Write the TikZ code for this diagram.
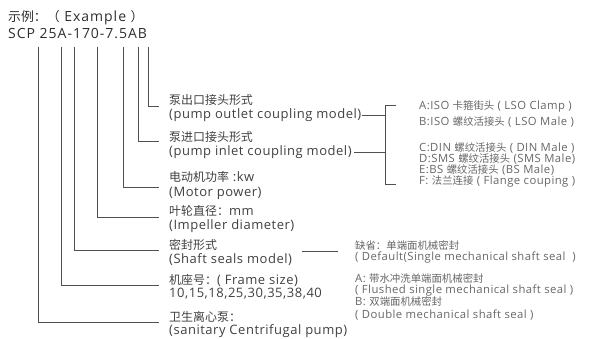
\documentclass[tikz,border=0pt]{standalone}
\usepackage{fontspec}
\setmainfont[LetterSpace=4]{Open Sans}
\newfontfamily\hdfont[LetterSpace=7]{Open Sans}
\newfontfamily\cjk[Scale=0.92]{Noto Sans CJK SC}
\definecolor{txth}{HTML}{2E2E2E}
\definecolor{txt}{HTML}{404040}
\definecolor{txtl}{HTML}{666666}
\definecolor{ln}{HTML}{505050}
\begin{document}
\begin{tikzpicture}[x=1pt,y=-1pt,
  hdr/.style={anchor=west,inner sep=0pt,text=txth,font=\hdfont\fontsize{14}{16}\selectfont},
  lbl/.style={anchor=west,inner sep=0pt,text=txt,font=\fontsize{13}{15}\selectfont},
  sml/.style={anchor=west,inner sep=0pt,text=txtl,font=\fontsize{11.3}{12}\selectfont},
  conn/.style={draw=ln,line width=0.8pt}]
\useasboundingbox (0,0) rectangle (589,338);
% header
\node[hdr] (h1) at (8,18) {{\cjk 示例：（} Example {\cjk ）}};
\node[hdr] (h2) at (8,34) {SCP 25A-170-7.5AB};
% start points of the leaders
\coordinate (s1) at (148,47);
\coordinate (s2) at (138,47);
\coordinate (s3) at (123,47);
\coordinate (s4) at (97,47);
\coordinate (s5) at (74,47);
\coordinate (s6) at (61,47);
\coordinate (s7) at (38,47);
\coordinate (e1) at (159,106);
\coordinate (e2) at (159,141);
\coordinate (e3) at (159,187);
\coordinate (e4) at (159,217);
\coordinate (e5) at (159,250);
\coordinate (e6) at (159,285);
\coordinate (e7) at (159,322);
\draw[conn] (s1) |- (e1);
\draw[conn] (s2) |- (e2);
\draw[conn] (s3) |- (e3);
\draw[conn] (s4) |- (e4);
\draw[conn] (s5) |- (e5);
\draw[conn] (s6) |- (e6);
\draw[conn] (s7) |- (e7);
% labels
\node[lbl] (a1) at (169,100) {\cjk 泵出口接头形式};
\node[lbl] (b1) at (169,115) {(pump outlet coupling model)};
\node[lbl] (a2) at (169,137) {\cjk 泵进口接头形式};
\node[lbl] (b2) at (169,152) {(pump inlet coupling model)};
\node[lbl] (a3) at (169,177) {{\cjk 电动机功率} :kw};
\node[lbl] (b3) at (169,193) {(Motor power)};
\node[lbl] (a4) at (169,211) {{\cjk 叶轮直径：}mm};
\node[lbl] (b4) at (169,226) {(Impeller diameter)};
\node[lbl] (a5) at (169,245) {\cjk 密封形式};
\node[lbl] (b5) at (169,260) {(Shaft seals model)};
\node[lbl] (a6) at (169,280) {{\cjk 机座号：}( Frame size)};
\node[lbl] (b6) at (169,294) {10,15,18,25,30,35,38,40};
\node[lbl] (a7) at (169,317) {\cjk 卫生离心泵：};
\node[lbl] (b7) at (169,331) {(sanitary Centrifugal pump)};
% coupling bracket
\coordinate (bt) at (385,105);
\coordinate (bb) at (385,184);
\coordinate (bt2) at (396,105);
\coordinate (bb2) at (396,184);
\draw[conn] (bt2) -- (bt) -- (bb) -- (bb2);
\draw[conn] ([xshift=1pt]b1.east) -- (b1.east -| bt);
\draw[conn] ([xshift=2pt]b2.east) -- (b2.east -| bt);
\node[sml] (c1) at (419,106) {A:ISO {\cjk 卡箍街头} ( LSO Clamp )};
\node[sml] (c2) at (419,122) {B:ISO {\cjk 螺纹活接头} ( LSO Male )};
\node[sml] (c3) at (419,148) {C:DIN {\cjk 螺纹活接头} ( DIN Male )};
\node[sml] (c4) at (419,159) {D:SMS {\cjk 螺纹活接头} (SMS Male)};
\node[sml] (c5) at (419,170) {E:BS {\cjk 螺纹活接头} (BS Male)};
\node[sml] (c6) at (419,181) {F: {\cjk 法兰连接} ( Flange couping )};
% seal options
\coordinate (sl1) at (302,251);
\coordinate (sl2) at (338,251);
\draw[conn] (sl1) -- (sl2);
\node[sml] (d1) at (355,246) {{\cjk 缺省：单端面机械密封}};
\node[sml] (d2) at (355,258) {( Default(Single mechanical shaft seal~~)};
\node[sml] (d3) at (355,279) {A: {\cjk 带水冲洗单端面机械密封}};
\node[sml] (d4) at (355,291) {( Flushed single mechanical shaft seal )};
\node[sml] (d5) at (355,302) {B: {\cjk 双端面机械密封}};
\node[sml] (d6) at (355,315) {( Double mechanical shaft seal )};
\end{tikzpicture}
\end{document}
